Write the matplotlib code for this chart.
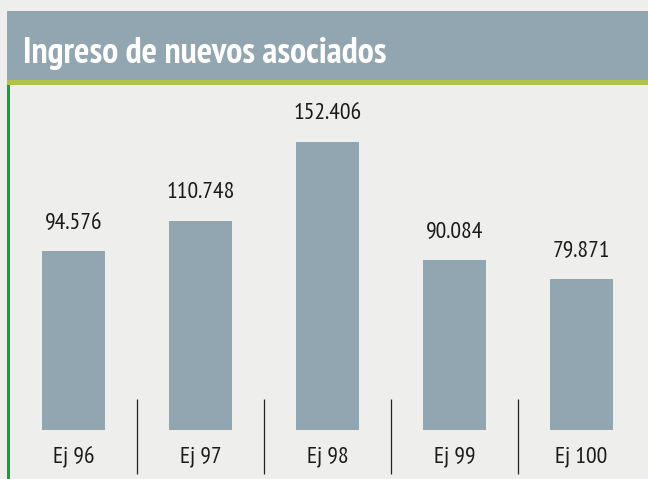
import matplotlib
matplotlib.use("Agg")
import matplotlib.pyplot as plt
from matplotlib.patches import Rectangle

categories = ["Ej 96", "Ej 97", "Ej 98", "Ej 99", "Ej 100"]
values = [94576, 110748, 152406, 90084, 79871]
title = "Ingreso de nuevos asociados"

FAM = ["PT Sans Narrow", "Roboto Condensed", "DejaVu Sans"]

W, H = 648, 479
fig = plt.figure(figsize=(W / 100, H / 100), dpi=100)
fig.patch.set_facecolor("#eeefed")

def px(x0, y0, w, h):
    return [x0 / W, 1 - (y0 + h) / H, w / W, h / H]

# header band
fig.patches.append(Rectangle((7 / W, 1 - 80 / H), 1, 69 / H, transform=fig.transFigure,
                             facecolor="#91a6b0", edgecolor="none"))
fig.patches.append(Rectangle((7 / W, 1 - 85 / H), 1, 5 / H, transform=fig.transFigure,
                             facecolor="#b0c24a", edgecolor="none"))
fig.patches.append(Rectangle((7 / W, 0), 2.5 / W, 1 - 85 / H, transform=fig.transFigure,
                             facecolor="#1a9b3c", edgecolor="none"))
fig.text(23 / W, 1 - 53 / H, title, fontsize=26, fontweight="bold",
         color="white", va="center", ha="left", family=FAM)

# bar axes: bottom of bars at y=430px, top at 85px
pxu = 1.89 / 1000.0
ax = fig.add_axes(px(10, 85, 635, 345))
ax.set_facecolor("none")
x = list(range(len(categories)))
ax.bar(x, values, width=0.5, color="#91a6b0")
ax.set_xlim(-0.5, len(categories) - 0.5)
ax.set_ylim(0, 345 / pxu)
for s in ax.spines.values():
    s.set_visible(False)
ax.set_yticks([])
ax.set_xticks(x)
ax.set_xticklabels(categories, fontsize=17, family=FAM, color="#1a1a1a")
ax.tick_params(axis="x", length=0, pad=12)

for xi, v in zip(x, values):
    lbl = f"{v:,}".replace(",", ".")
    ax.text(xi, v + 28 / pxu, lbl, ha="center", va="center", fontsize=17,
            family=FAM, color="#1a1a1a")

for xi in x[:-1]:
    ax.vlines(xi + 0.5, -44 / pxu, 31 / pxu, color="#222222", linewidth=0.9, clip_on=False)

fig.savefig("out.png", dpi=100, facecolor=fig.get_facecolor())
